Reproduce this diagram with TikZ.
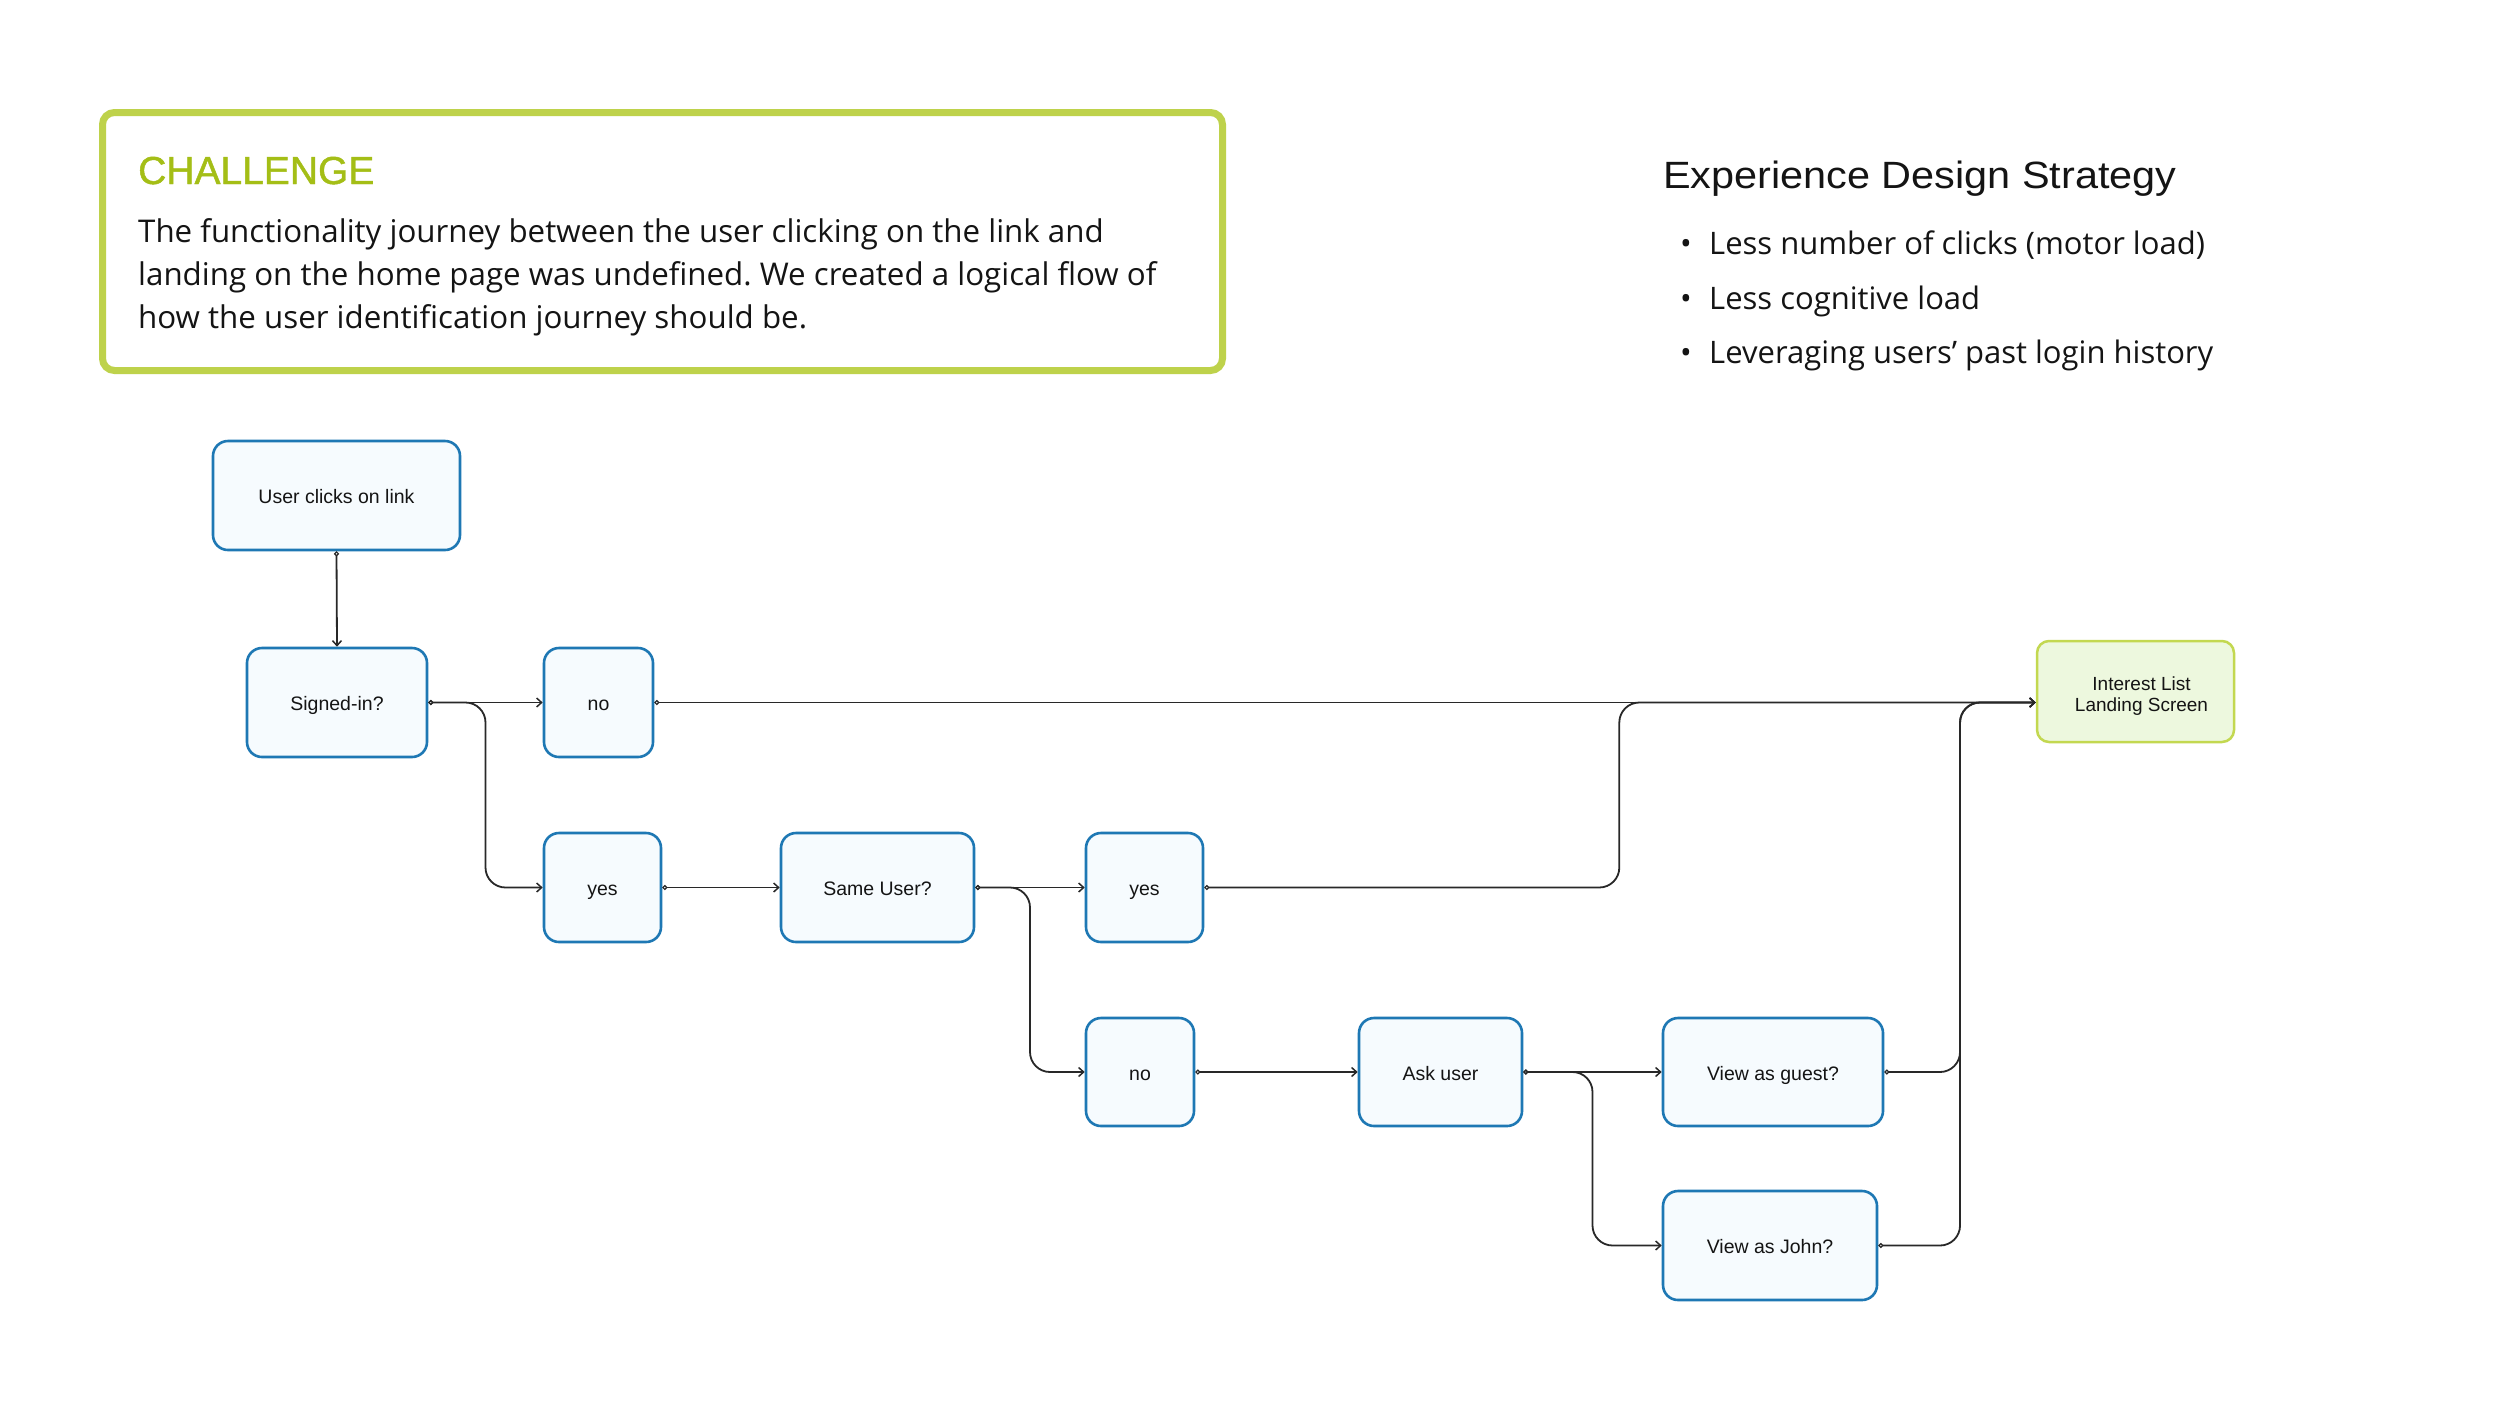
\documentclass[tikz,border=0pt]{standalone}
\usepackage{fontspec}
\setmainfont{Liberation Sans}
\newfontfamily\opensans{Open Sans}
\newfontfamily\headfont[FakeStretch=1.09]{Liberation Sans}
\newfontfamily\titlefont[FakeBold=1.2]{Liberation Sans}
\usetikzlibrary{arrows.meta,calc}
\definecolor{chborder}{RGB}{190,210,75}
\definecolor{chtext}{RGB}{164,190,22}
\definecolor{nodeblue}{RGB}{30,120,180}
\definecolor{nodefill}{RGB}{246,251,254}
\definecolor{ilfill}{RGB}{237,248,222}
\definecolor{ilborder}{RGB}{195,216,80}
\definecolor{linegray}{RGB}{40,40,40}
\definecolor{ink}{RGB}{20,20,20}
\frenchspacing
\begin{document}
\begin{tikzpicture}[x=1pt,y=-1pt,
  box/.style={draw=nodeblue, fill=nodefill, line width=2.6pt, rounded corners=15pt,
    inner sep=0pt, text=ink, text height=16pt, text depth=0pt,
    font=\fontsize{19.5}{23}\selectfont},
  goal/.style={draw=ilborder, fill=ilfill, line width=2.5pt, rounded corners=12pt,
    inner sep=0pt, text=ink, align=center, font=\fontsize{19}{21.5}\selectfont},
  conn/.style={draw=linegray, line width=1.8pt, rounded corners=20pt,
    {Circle[open,length=5pt,width=5pt,line width=1.2pt]}-{Straight Barb[length=5pt,width=9pt,line width=1.5pt]}},
  body/.style={anchor=base west, inner sep=0pt, text=ink, font=\opensans\fontsize{31.3}{43}\selectfont},
  bul/.style={anchor=base west, inner sep=0pt, text=ink, font=\opensans\fontsize{31}{40}\selectfont}
]
\fill[white] (0,0) rectangle (2500,1406);
\useasboundingbox (0,0) rectangle (2500,1406);

% Challenge panel
\draw[draw=chborder, line width=7pt, rounded corners=12pt] (102.5,112.5) rectangle (1222.5,370.5);
\node[anchor=base west, inner sep=0pt, text=chtext, font=\titlefont\fontsize{39}{44}\selectfont] (chtitle) at (138,184) {CHALLENGE};
\node[body] (ch1) at (138,242) {The functionality journey between the user clicking on the link and};
\node[body] (ch2) at (138,285) {landing on the home page was undefined. We created a logical flow of};
\node[body] (ch3) at (138,328) {how the user identification journey should be.};

% Strategy
\node[anchor=base west, inner sep=0pt, text=ink, font=\headfont\fontsize{38}{42}\selectfont] (hd) at (1663,188) {Experience Design Strategy};
\node[bul] (d1) at (1680,254) {•};
\node[bul] (s1) at (1709,254) {Less number of clicks (motor load)};
\node[bul] (d2) at (1680,309) {•};
\node[bul] (s2) at (1709,309) {Less cognitive load};
\node[bul] (d3) at (1680,363) {•};
\node[bul] (s3) at (1709,363) {Leveraging users’ past login history};

% Flow nodes
\node[box, minimum width=247pt, minimum height=109pt] (UC) at (336.5,495.5) {User clicks on link};
\node[box, minimum width=180pt, minimum height=109pt] (SI) at (337,702.5) {Signed-in?};
\node[box, minimum width=109pt, minimum height=109pt] (NO1) at (598.5,702.5) {no};
\node[box, minimum width=117pt, minimum height=109pt] (YES1) at (602.5,887.5) {yes};
\node[box, minimum width=193pt, minimum height=109pt] (SU) at (877.5,887.5) {Same User?};
\node[box, minimum width=117pt, minimum height=109pt] (YES2) at (1144.5,887.5) {yes};
\node[box, minimum width=108pt, minimum height=108pt] (NO2) at (1140,1072) {no};
\node[box, minimum width=163pt, minimum height=108pt] (ASK) at (1440.5,1072) {Ask user};
\node[box, minimum width=220pt, minimum height=108pt] (VG) at (1773,1072) {View as guest?};
\node[box, minimum width=214pt, minimum height=109pt] (VJ) at (1770,1245.5) {View as John?};
\node[goal, minimum width=197pt, minimum height=101pt] (IL) at (2135.5,691.5) {\rule{0pt}{23pt}\hspace*{12pt}Interest List\\\hspace*{12pt}Landing Screen};

% Helper coordinates
\coordinate (b1) at ($(SI.east)!.5!(NO1.west)$);
\coordinate (b2) at ($(SU.east)!.5!(YES2.west)$);
\coordinate (b3) at ($(ASK.east)!.5!(VG.west)$);
\coordinate (ilin) at (NO1.east -| IL.west);
\coordinate (m1) at ($(YES2.east)+(415,0)$);
\coordinate (b4) at ($(VG.east)!.5!(VG.east -| IL.west)$);

% Connectors
\draw[conn] (UC.south) -- (SI.north);
\draw[conn] (SI.east) -- (NO1.west);
\draw[conn] (SI.east) -- (b1) |- (YES1.west);
\draw[conn] (YES1.east) -- (SU.west);
\draw[conn] (SU.east) -- (YES2.west);
\draw[conn] (SU.east) -- (b2) |- (NO2.west);
\draw[conn] (NO2.east) -- (ASK.west);
\draw[conn] (ASK.east) -- (VG.west);
\draw[conn] (ASK.east) -- (b3) |- (VJ.west);
\draw[conn] (NO1.east) -- (ilin);
\draw[conn] (YES2.east) -- (m1) |- (ilin);
\draw[conn] (VG.east) -- (b4) |- (ilin);
\draw[conn] (VJ.east) -- (VJ.east -| b4) |- (ilin);
\end{tikzpicture}
\end{document}
